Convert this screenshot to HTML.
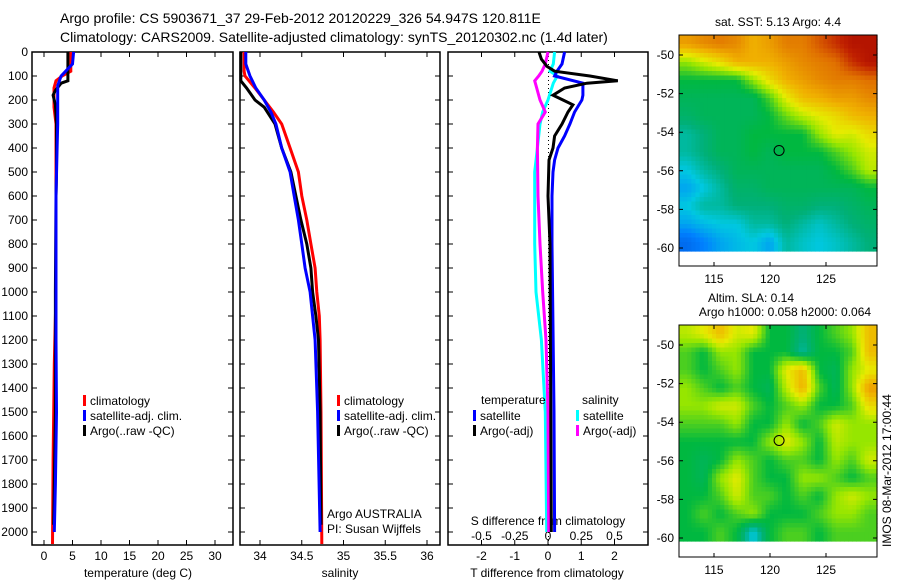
<!DOCTYPE html>
<html><head><meta charset="utf-8"><style>
body{margin:0;background:#fff;}
svg{display:block;font-family:"Liberation Sans",sans-serif;}
</style></head><body>
<svg id="fig" width="900" height="580" xmlns="http://www.w3.org/2000/svg">
<text x="60" y="23" font-size="14">Argo profile: CS 5903671_37 29-Feb-2012 20120229_326 54.947S 120.811E</text>
<text x="60" y="42" font-size="14">Climatology: CARS2009. Satellite-adjusted climatology: synTS_20120302.nc (1.4d later)</text>
<text x="778" y="26" font-size="12" text-anchor="middle">sat. SST: 5.13 Argo: 4.4</text>
<text x="751" y="302" font-size="12" text-anchor="middle">Altim. SLA: 0.14</text>
<text x="785" y="316" font-size="12" text-anchor="middle">Argo h1000: 0.058 h2000: 0.064</text>
<text transform="translate(891,547) rotate(-90)" font-size="12">IMOS 08-Mar-2012 17:00:44</text>
<g id="g"></g>
</svg>
<script>
// ---------- data ----------
const depthTicks=[0,100,200,300,400,500,600,700,800,900,1000,1100,1200,1300,1400,1500,1600,1700,1800,1900,2000];
const tTicks=[0,5,10,15,20,25,30];
const sTicks=[34,34.5,35,35.5,36];
const dTTicks=[-2,-1,0,1,2];
const dSTickLabels=["-0.5","-0.25","0","0.25","0.5"];
const dSTicks=[-0.5,-0.25,0,0.25,0.5];

const tClimD=[0,80,100,120,150,230,300,1000,1300,1700,2050];
const tClimV=[4.7,4.7,3.2,2.1,1.75,1.75,2.1,2.1,1.8,1.6,1.5];
const tSatD=[0,50,80,100,140,300,400,600,1200,1500,1800,2000];
const tSatV=[5.2,5.0,3.8,3.0,2.4,2.4,2.3,2.1,2.1,2.2,2.0,1.8];
const tArgoD=[0,120,130,160,180,220,300,500,600,1000,1500,1970];
const tArgoV=[4.2,4.2,3.0,2.0,1.6,2.0,2.2,2.2,2.1,2.0,2.0,1.7];

const sClimD=[0,80,100,150,200,250,300,400,500,600,700,800,900,1000,1100,1200,1500,2050];
const sClimV=[33.81,33.81,33.82,33.94,34.05,34.16,34.26,34.36,34.46,34.5,34.56,34.61,34.66,34.68,34.71,34.72,34.73,34.74];
const sSatD=[0,50,100,150,200,250,300,400,500,600,700,800,900,1000,1100,1200,1500,2000];
const sSatV=[33.83,33.83,33.88,33.95,34.05,34.13,34.19,34.26,34.36,34.41,34.46,34.5,34.54,34.6,34.63,34.66,34.69,34.72];
const sArgoD=[0,120,150,200,230,300,400,500,600,700,800,900,1000,1100,1200,1500,1970];
const sArgoV=[33.77,33.77,33.84,33.94,34.05,34.18,34.26,34.37,34.43,34.49,34.56,34.61,34.63,34.67,34.7,34.72,34.73];

const dTSatD=[0,50,80,100,130,180,200,250,300,350,400,450,500,600,800,1500,2000];
const dTSatV=[0.5,0.42,0.27,0.2,1.05,1.05,1.02,0.8,0.66,0.5,0.3,0.2,0.15,0.12,0.12,0.18,0.2];
const dTArgoD=[0,30,60,80,100,120,130,150,180,200,220,250,300,350,400,450,600,800,2000];
const dTArgoV=[-0.27,-0.2,-0.03,0.2,1.26,2.1,1.17,0.5,0.15,0.45,0.75,0.6,0.42,0.2,0.15,0.03,0.0,0.06,0.1];
const dSSatD=[0,50,80,100,130,200,250,300,400,500,800,1000,1200,1500,2000];
const dSSatV=[0.05,0.04,0.015,0.07,0.04,0,-0.04,-0.06,-0.08,-0.1,-0.1,-0.09,-0.05,-0.02,-0.01];
const dSArgoD=[0,50,80,100,120,150,200,250,300,400,600,800,1000,1200,1500,2000];
const dSArgoV=[0,-0.02,-0.045,-0.07,-0.1,-0.085,-0.06,-0.02,-0.075,-0.08,-0.075,-0.06,-0.04,-0.015,0,0.005];

const sstGrid=[
[.75,.78,.8,.78,.72,.75,.8,.8,.85,.9,.95,.95],
[.55,.6,.65,.72,.72,.72,.75,.78,.8,.82,.9,.95],
[.45,.45,.45,.45,.55,.65,.72,.75,.78,.8,.8,.82],
[.42,.42,.42,.42,.42,.5,.62,.7,.72,.75,.75,.78],
[.4,.42,.42,.42,.42,.45,.52,.58,.62,.65,.7,.72],
[.35,.38,.42,.42,.45,.45,.45,.45,.55,.62,.6,.65],
[.35,.38,.42,.42,.45,.42,.45,.45,.45,.5,.55,.6],
[.3,.35,.38,.42,.42,.42,.42,.42,.42,.45,.5,.58],
[.25,.3,.35,.4,.4,.42,.42,.42,.42,.42,.42,.45],
[.3,.35,.35,.38,.38,.38,.4,.4,.38,.38,.4,.42],
[.25,.28,.3,.3,.35,.35,.38,.35,.32,.35,.38,.4],
[.15,.2,.25,.28,.3,.25,.35,.32,.3,.32,.35,.38]];
const slaGrid=[
[.58,.62,.7,.6,.62,.45,.45,.38,.45,.5,.55,.7],
[.5,.45,.55,.55,.45,.45,.45,.35,.45,.45,.5,.7],
[.5,.45,.5,.55,.45,.45,.62,.7,.45,.42,.55,.62],
[.55,.5,.45,.5,.45,.42,.58,.72,.5,.42,.55,.75],
[.55,.55,.6,.6,.5,.45,.5,.55,.45,.45,.5,.65],
[.5,.5,.5,.55,.45,.45,.55,.45,.5,.6,.55,.55],
[.45,.45,.45,.45,.45,.55,.62,.55,.45,.58,.55,.55],
[.45,.42,.45,.55,.5,.45,.5,.5,.45,.55,.5,.6],
[.45,.42,.55,.62,.5,.45,.45,.55,.55,.5,.45,.5],
[.45,.45,.5,.6,.5,.5,.45,.5,.45,.55,.6,.55],
[.45,.5,.45,.5,.55,.45,.45,.45,.5,.55,.55,.5],
[.45,.45,.5,.45,.3,.45,.5,.5,.45,.5,.5,.5]];
const lonTicks=[115,120,125];
const latTicks=[-50,-52,-54,-56,-58,-60];
const argoLon=[120.811];
const argoLat=[-54.947];

// ---------- drawing ----------
const NS="http://www.w3.org/2000/svg";
const G=document.getElementById('g');
function mk(tag,at,parent){const e=document.createElementNS(NS,tag);for(const k in at)e.setAttribute(k,at[k]);(parent||G).appendChild(e);return e;}
const yD=d=>52+d*0.24;
const BOT=545;
const panels=[
 {x0:32,x1:233,sx:v=>44+v*5.7},
 {x0:240,x1:440,sx:v=>260+(v-34)*83.5},
 {x0:448,x1:648,sx:v=>548+v*33.25}
];
const sxS3=v=>548+v*133;

panels.forEach((p,i)=>{
  const r=mk('rect',{x:p.x0,y:52,width:p.x1-p.x0,height:BOT-52,fill:'none',stroke:'#000','stroke-width':1.5});
  
  
  depthTicks.forEach(d=>{
    const y=yD(d);
    const t=mk('path',{d:`M${p.x0},${y}h5M${p.x1},${y}h-5`,stroke:'#000','stroke-width':1});
    
    
  });
});
depthTicks.forEach(d=>{
  const t=mk('text',{x:28,y:yD(d)+4,'font-size':12,'text-anchor':'end'});
  t.textContent=d;
  
  
});
function xTicks(p,ticks,labels,ly){
  ticks.forEach((v,k)=>{
    const x=p.sx(v);
    const t=mk('path',{d:`M${x},${BOT}v-5M${x},52v5`,stroke:'#000','stroke-width':1});
    
    
    const l=mk('text',{x:x,y:ly,'font-size':12,'text-anchor':'middle'});
    l.textContent=labels[k];
    
    
  });
}
xTicks(panels[0],tTicks,tTicks,560);
xTicks(panels[1],sTicks,sTicks,560);
xTicks(panels[2],dTTicks,dTTicks,560);
dSTicks.forEach((v,k)=>{
  const l=mk('text',{x:sxS3(v),y:540,'font-size':12,'text-anchor':'middle'});
  l.textContent=dSTickLabels[k];
  
  
});
[[138,'temperature (deg C)','x-axis-title-temperature'],[340,'salinity','x-axis-title-salinity'],[547,'T difference from climatology','x-axis-title-t-diff']].forEach(a=>{
  const t=mk('text',{x:a[0],y:577,'font-size':12,'text-anchor':'middle'});t.textContent=a[1];
  
  
});
{const t=mk('text',{x:548,y:525,'font-size':12,'text-anchor':'middle'});t.textContent='S difference from climatology';

}
{const z=mk('line',{x1:548.5,x2:548.5,y1:52,y2:BOT,stroke:'#000','stroke-dasharray':'1,3','stroke-width':1});

}

function series(D,V,sx,color,name){
  const pts=D.map((d,k)=>sx(V[k]).toFixed(1)+','+yD(d).toFixed(1)).join(' ');
  const l=mk('polyline',{points:pts,fill:'none',stroke:color,'stroke-width':3});
  
  
}
series(tClimD,tClimV,panels[0].sx,'#ff0000','temperature-climatology-line');
series(tArgoD,tArgoV,panels[0].sx,'#000','temperature-argo-line');
series(tSatD,tSatV,panels[0].sx,'#0000ff','temperature-satellite-line');
series(sClimD,sClimV,panels[1].sx,'#ff0000','salinity-climatology-line');
series(sArgoD,sArgoV,panels[1].sx,'#000','salinity-argo-line');
series(sSatD,sSatV,panels[1].sx,'#0000ff','salinity-satellite-line');
series(dSSatD,dSSatV,sxS3,'#00ffff','s-diff-satellite-line');
series(dSArgoD,dSArgoV,sxS3,'#ff00ff','s-diff-argo-line');
series(dTSatD,dTSatV,panels[2].sx,'#0000ff','t-diff-satellite-line');
series(dTArgoD,dTArgoV,panels[2].sx,'#000','t-diff-argo-line');

function legend(x,y,items){
  items.forEach((it,k)=>{
    const yy=y+k*15;
    const m=mk('rect',{x:x,y:yy-10,width:3,height:11,fill:it[0]});
    
    
    const t=mk('text',{x:x+7,y:yy,'font-size':12});t.textContent=it[1];
    
    
  });
}
const leg=[['#ff0000','climatology'],['#0000ff','satellite-adj. clim.'],['#000','Argo(..raw -QC)']];
legend(83,405,leg);
legend(337,405,leg);
legend(473,420,[['#0000ff','satellite'],['#000','Argo(-adj)']]);
legend(576,420,[['#00ffff','satellite'],['#ff00ff','Argo(-adj)']]);
[[481,404,'temperature','legend-title-temperature'],[582,404,'salinity','legend-title-salinity'],[327,518,'Argo AUSTRALIA','argo-institution'],[327,533,'PI: Susan Wijffels','principal-investigator']].forEach(a=>{
  const t=mk('text',{x:a[0],y:a[1],'font-size':12});t.textContent=a[2];
  
  
});

const stops=[[0,[0,48,192]],[.2,[0,128,255]],[.3,[0,200,224]],[.38,[0,176,120]],[.45,[0,184,64]],[.55,[150,230,0]],[.62,[230,235,0]],[.72,[240,176,0]],[.82,[224,112,0]],[.92,[192,32,0]],[1,[160,0,0]]];
function cmap(v){for(let i=1;i<stops.length;i++){if(v<=stops[i][0]){const a=stops[i-1],b=stops[i],f=(v-a[0])/(b[0]-a[0]);return 'rgb('+a[1].map((c,j)=>Math.round(c+(b[1][j]-c)*f)).join(',')+')';}}return 'rgb(160,0,0)';}

function sample(grid,fy,fx){
  const R=grid.length,C=grid[0].length;
  const y=Math.min(Math.max(fy,0),R-1),x=Math.min(Math.max(fx,0),C-1);
  const y0=Math.floor(y),x0=Math.floor(x),y1=Math.min(y0+1,R-1),x1=Math.min(x0+1,C-1);
  const a=y-y0,b=x-x0;
  return grid[y0][x0]*(1-a)*(1-b)+grid[y0][x1]*(1-a)*b+grid[y1][x0]*a*(1-b)+grid[y1][x1]*a*b;
}
function map(grid,top,imgBot,bot,lat50,lat60,name){
  const x0=679,x1=877;
  const lx=lon=>714+(lon-115)*11.2;
  const ly=lat=>lat50+(lat+50)*(lat60-lat50)/-10;
  const rows=grid.length,cols=grid[0].length,U=4;
  const nr=rows*U,nc=cols*U;
  const cw=(x1-x0)/nc,ch=(imgBot-top)/nr;
  for(let r=0;r<nr;r++)for(let c=0;c<nc;c++){
    const v=sample(grid,(r+0.5)/U-0.5,(c+0.5)/U-0.5);
    const e=mk('rect',{x:(x0+c*cw).toFixed(2),y:(top+r*ch).toFixed(2),width:(cw+0.6).toFixed(2),height:(ch+0.6).toFixed(2),fill:cmap(v)});
    
    
  }
  const f=mk('rect',{x:x0,y:top,width:x1-x0,height:bot-top,fill:'none',stroke:'#000','stroke-width':1});
  
  
  lonTicks.forEach(l=>{
    const x=lx(l);
    const t=mk('path',{d:`M${x},${bot}v-4M${x},${top}v4`,stroke:'#000'});
    
    
    const s=mk('text',{x:x,y:bot+17,'font-size':12,'text-anchor':'middle'});s.textContent=l;
    
    
  });
  latTicks.forEach(l=>{
    const y=ly(l);
    const t=mk('path',{d:`M${x0},${y}h4M${x1},${y}h-4`,stroke:'#000'});
    
    
    const s=mk('text',{x:x0-5,y:y+4,'font-size':12,'text-anchor':'end'});s.textContent=l;
    
    
  });
  argoLon.forEach((lo,k)=>{
    const c=mk('circle',{cx:lx(lo),cy:ly(argoLat[k]),r:5,fill:'none',stroke:'#000','stroke-width':1});
    
    
  });
}
map(sstGrid,35,251,266,55,248,'sst-map');
map(slaGrid,325,541,557,345,538,'sla-map');
</script>
</body></html>
